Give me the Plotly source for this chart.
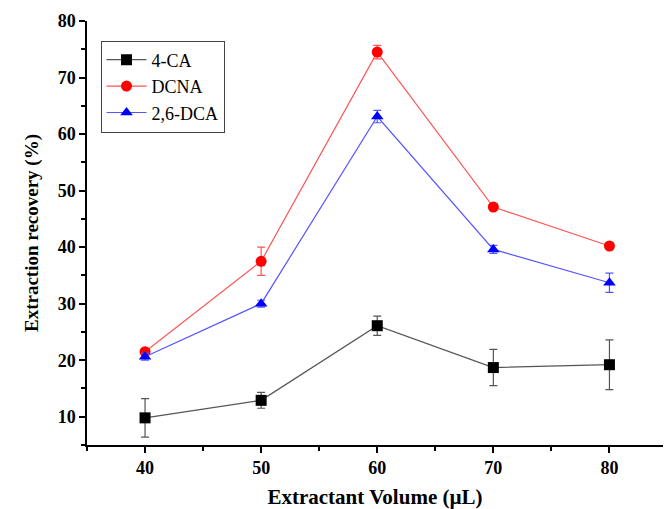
import plotly.graph_objects as go

volume = [40, 50, 60, 70, 80]

ca4 = [9.8, 12.9, 26.1, 18.7, 19.2]
ca4_err = [3.4, 1.4, 1.7, 3.2, 4.4]

dcna = [21.5, 37.5, 74.5, 47.1, 40.2]
dcna_err = [0.4, 2.5, 1.2, 0.3, 0.5]

dca26 = [20.6, 30.0, 63.1, 39.6, 33.7]
dca26_err = [0.6, 0.6, 1.1, 0.7, 1.7]

series = [
    ("4-CA", ca4, ca4_err, "#000000", "#555555", "square"),
    ("DCNA", dcna, dcna_err, "#ff0000", "#ff5555", "circle"),
    ("2,6-DCA", dca26, dca26_err, "#0000ff", "#5555ff", "triangle-up"),
]

fig = go.Figure()
for name, vals, errs, mcol, lcol, sym in series:
    fig.add_trace(go.Scatter(
        x=volume, y=vals, name=name, mode="lines+markers",
        line=dict(color=lcol, width=1.2),
        marker=dict(symbol=sym, size=11, color=mcol),
        error_y=dict(type="data", array=errs, visible=True,
                     color=lcol, thickness=1.2, width=4),
    ))

W, H = 664, 509
L, R, T, B = 87, 1, 21, 64
px_per_unit = 11.61
plot_w = W - L - R
plot_h = H - T - B

fig.update_layout(
    width=W, height=H,
    margin=dict(l=L, r=R, t=T, b=B),
    paper_bgcolor="white", plot_bgcolor="white",
    font=dict(family="Liberation Serif", color="black"),
    showlegend=True,
    legend=dict(
        x=(100.5 - L) / plot_w, y=1 - (40.5 - T) / plot_h,
        xanchor="left", yanchor="top",
        bordercolor="#444444", borderwidth=1, bgcolor="white",
        font=dict(family="Liberation Serif", size=18, color="black"),
        tracegroupgap=0, itemwidth=40,
    ),
    xaxis=dict(
        range=[35, 35 + plot_w / px_per_unit],
        tickmode="linear", tick0=0, dtick=10,
        ticks="outside", ticklen=6, tickwidth=1.5, tickcolor="black",
        minor=dict(dtick=5, tick0=0, ticks="outside", ticklen=4, tickwidth=1.5, tickcolor="black"),
        showline=True, linecolor="black", linewidth=1.5,
        showgrid=False, zeroline=False,
        tickfont=dict(family="Liberation Serif", size=18, color="black", weight="bold"),
        title=dict(text="<b>Extractant Volume (µL)</b>",
                   font=dict(family="Liberation Serif", size=21, color="black"), standoff=16),
    ),
    yaxis=dict(
        range=[5, 80],
        tickmode="linear", tick0=0, dtick=10,
        ticks="outside", ticklen=6, tickwidth=1.5, tickcolor="black",
        minor=dict(dtick=5, tick0=0, ticks="outside", ticklen=4, tickwidth=1.5, tickcolor="black"),
        showline=True, linecolor="black", linewidth=1.5,
        showgrid=False, zeroline=False,
        tickfont=dict(family="Liberation Serif", size=18, color="black", weight="bold"),
        title=dict(text="<b>Extraction recovery (%)</b>",
                   font=dict(family="Liberation Serif", size=19, color="black"), standoff=14),
    ),
)

fig.write_html("out.html")
